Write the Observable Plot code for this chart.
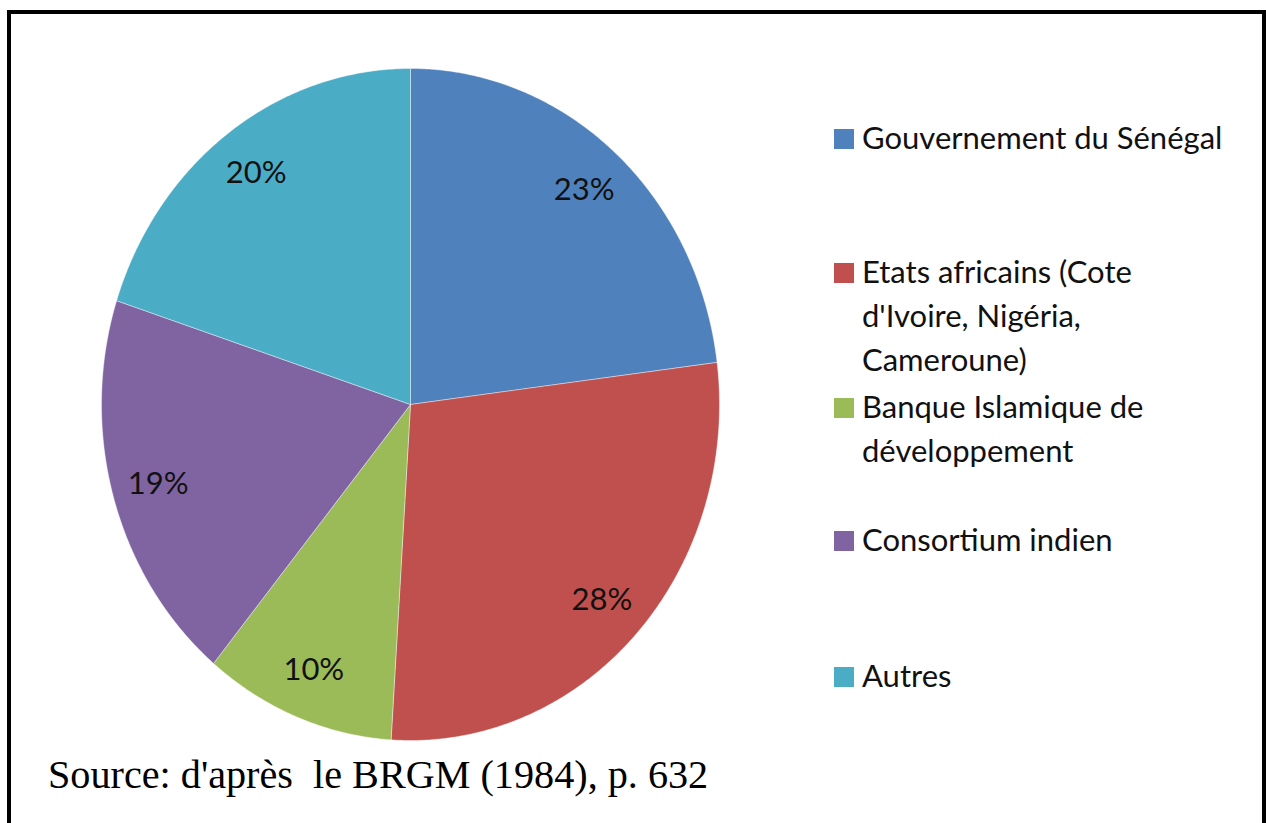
<!DOCTYPE html>
<html><head><meta charset="utf-8">
<script src="https://cdn.jsdelivr.net/npm/d3@7"></script>
<script src="https://cdn.jsdelivr.net/npm/@observablehq/plot@0.6"></script>
<style>
html,body{margin:0;padding:0;background:#fff;}
#wrap{position:relative;width:1266px;height:823px;overflow:hidden;background:#fff;}
#frame{position:absolute;left:7px;top:10px;width:1251px;height:830px;border:4px solid #000;border-bottom:none;}
#chart{position:absolute;left:0;top:0;}
</style></head><body>
<div id="wrap"><div id="chart"></div><div id="frame"></div></div>
<script>
const categories = ["Gouvernement du Sénégal", "Etats africains (Cote d'Ivoire, Nigéria, Cameroune)", "Banque Islamique de développement", "Consortium indien", "Autres"];
const values = [23, 28, 10, 19, 20];
const colors = ["#4F81BD", "#C0504D", "#9BBB59", "#8064A2", "#4BACC6"];
const legendLines = [["Gouvernement du Sénégal"], ["Etats africains (Cote", "d'Ivoire, Nigéria,", "Cameroune)"], ["Banque Islamique de", "développement"], ["Consortium indien"], ["Autres"]];
const caption = "Source: d'après  le BRGM (1984), p. 632";

// geometry derived from the values
const total = d3.sum(values);
const pts = [];
const labels = [];
let cum = 0;
values.forEach((v, i) => {
  const a0 = cum / total * 2 * Math.PI;
  cum += v;
  const a1 = cum / total * 2 * Math.PI;
  const n = Math.max(2, Math.ceil((a1 - a0) / (Math.PI / 360)));
  pts.push({cat: categories[i], x: 0, y: 0});
  for (let k = 0; k <= n; k++) {
    const a = a0 + (a1 - a0) * k / n;
    pts.push({cat: categories[i], x: Math.sin(a), y: Math.cos(a)});
  }
  pts.push({cat: categories[i], x: 0, y: 0});
  const am = (a0 + a1) / 2, r = 0.85;
  labels.push({x: r * Math.sin(am), y: r * Math.cos(am), label: Math.round(v / total * 100) + "%"});
});

const plot = Plot.plot({
  width: 1266, height: 823, margin: 0,
  style: {background: "transparent"},
  x: {domain: [-1, 1], range: [101, 719], axis: null},
  y: {domain: [-1, 1], range: [740, 68], axis: null},
  color: {domain: categories, range: colors},
  marks: [
    Plot.line(pts, {x: "x", y: "y", z: "cat", fill: "cat", stroke: "#fff", strokeOpacity: 0.5, strokeWidth: 0.8}),
    Plot.text(labels, {x: "x", y: "y", text: "label", fontSize: 31, fill: "#111", fontFamily: "Lato"})
  ]
});

// legend and caption
const svg = d3.select(plot);
const lg = svg.append("g").attr("font-family", "Lato").attr("font-size", 31).attr("fill", "#111").attr("text-anchor", "start");
const baselines = [149, 283, 418, 551, 687];
const lineH = 44;
legendLines.forEach((lines, i) => {
  lg.append("rect").attr("x", 834).attr("y", baselines[i] - 20).attr("width", 20).attr("height", 20).attr("fill", colors[i]);
  lines.forEach((t, j) => {
    lg.append("text").attr("x", 862).attr("y", baselines[i] + j * lineH).text(t);
  });
});
svg.append("text").attr("x", 48).attr("y", 788).attr("text-anchor", "start").attr("font-family", "Liberation Serif, Times New Roman, serif")
  .attr("font-size", 40.2).attr("fill", "#000").attr("xml:space", "preserve").style("white-space", "pre").text(caption);

document.getElementById("chart").appendChild(plot);
</script>
</body></html>
